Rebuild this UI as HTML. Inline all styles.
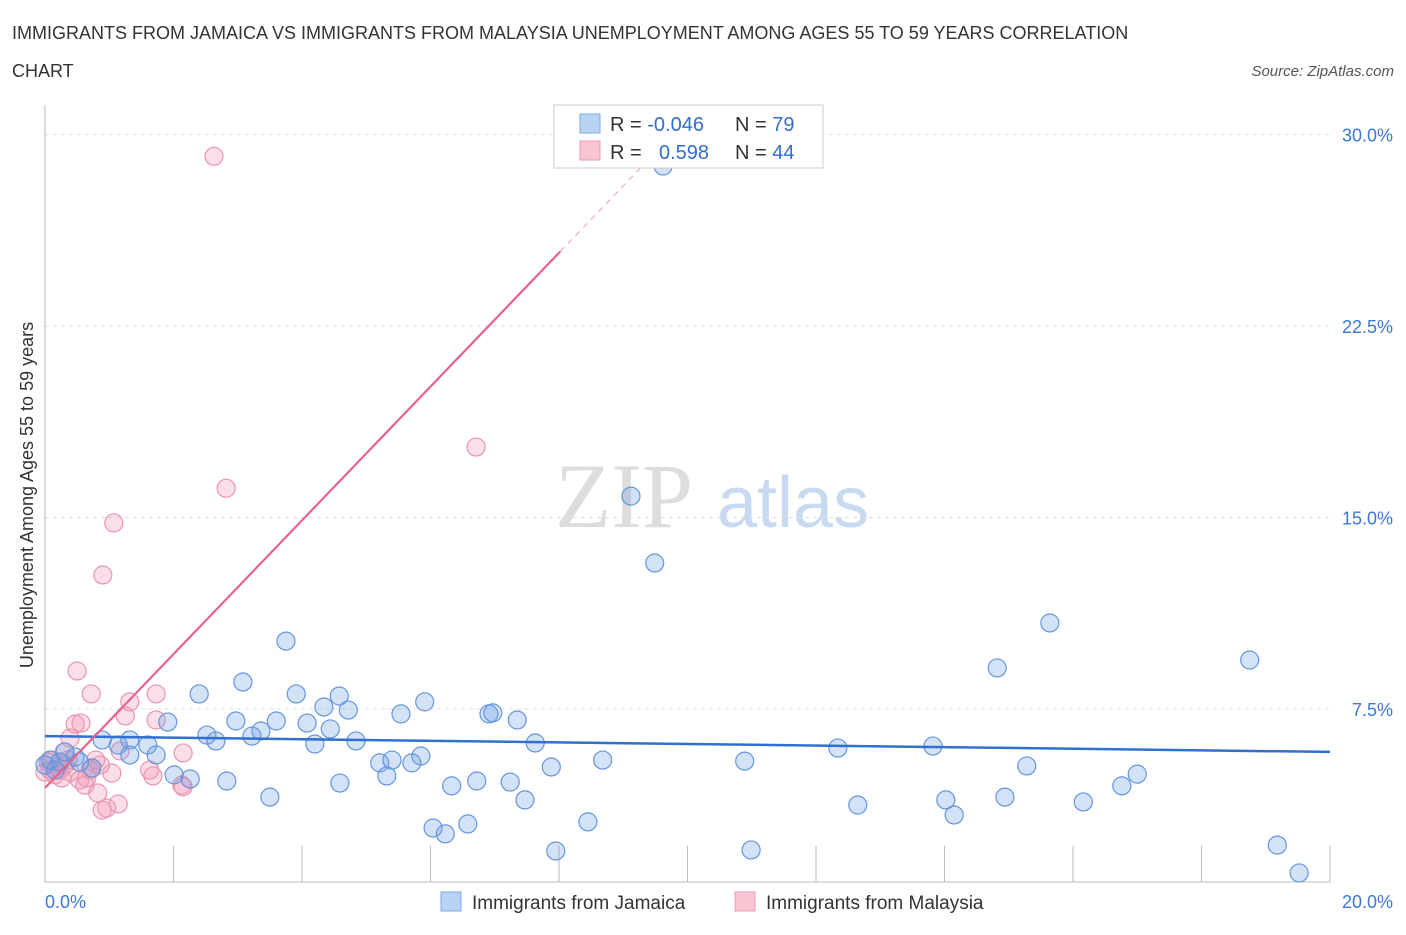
<!DOCTYPE html>
<html><head><meta charset="utf-8"><style>
body{margin:0;background:#fff;width:1406px;height:930px;overflow:hidden;font-family:"Liberation Sans",sans-serif}
</style></head><body>
<svg id="c" width="1406" height="930" xmlns="http://www.w3.org/2000/svg">
<text x="12" y="39" font-size="18" fill="#333">IMMIGRANTS FROM JAMAICA VS IMMIGRANTS FROM MALAYSIA UNEMPLOYMENT AMONG AGES 55 TO 59 YEARS CORRELATION</text>
<text x="12" y="77" font-size="18" fill="#333">CHART</text>
<text x="1394" y="76" font-size="15" fill="#555" font-style="italic" text-anchor="end">Source: ZipAtlas.com</text>
<text x="33" y="495" font-size="18" fill="#333" text-anchor="middle" transform="rotate(-90 33 495)">Unemployment Among Ages 55 to 59 years</text>
<g><text x="555" y="527" font-size="92" fill="#ddd" font-family="Liberation Serif,serif">ZIP</text><text x="717" y="527" font-size="72" fill="#c8daf2">atlas</text></g>
<g id="grid"></g><g id="marks"></g>
<g>
<rect x="554" y="105" width="269" height="63" fill="#fff" stroke="#ccc"/>
<rect x="580" y="114" width="20" height="19" fill="#b9d3f5" stroke="#7fa8e6"/>
<rect x="580" y="141" width="20" height="19" fill="#f9c5d3" stroke="#eb9ab2"/>
<text x="610" y="131" font-size="20" fill="#333">R = <tspan fill="#2f6fd0">-0.046</tspan></text>
<text x="735" y="131" font-size="20" fill="#333">N = <tspan fill="#2f6fd0">79</tspan></text>
<text x="610" y="159" font-size="20" fill="#333">R = <tspan fill="#2f6fd0" x="659">0.598</tspan></text>
<text x="735" y="159" font-size="20" fill="#333">N = <tspan fill="#2f6fd0">44</tspan></text>
</g>
<g>
<rect x="441" y="892" width="20" height="19" fill="#b9d3f5" stroke="#7fa8e6"/>
<text x="472" y="909" font-size="19" fill="#333">Immigrants from Jamaica</text>
<rect x="735" y="892" width="20" height="19" fill="#f9c5d3" stroke="#eb9ab2"/>
<text x="766" y="909" font-size="19" fill="#333">Immigrants from Malaysia</text>
</g>
</svg>
<script>
const yTicks=[7.5,15,22.5,30];
const yTickLabels=["7.5%","15.0%","22.5%","30.0%"];
const blueX=[9.62,9.12,9.49,3.75,15.64,14.82,18.75,3.08,2.40,3.91,4.58,4.34,4.72,5.91,5.54,6.91,6.97,7.35,1.91,2.97,3.60,4.08,4.44,3.36,2.52,3.22,2.66,4.20,4.84,7.63,12.34,13.82,0.89,1.32,1.60,1.14,1.73,1.32,0.47,0.08,0.23,5.21,5.40,5.85,5.71,7.88,8.68,10.89,15.28,17.00,2.01,2.26,2.83,5.32,4.59,6.33,6.72,7.24,16.76,3.50,7.47,14.02,14.94,16.16,12.65,14.15,6.58,6.04,6.23,8.45,7.95,10.99,19.18,19.52,0.16,0.31,0.73,0.00,0.54];
const blueY=[28.77,15.84,13.22,10.16,10.87,9.11,9.42,8.56,8.09,8.09,8.01,7.58,7.46,7.78,7.31,7.31,7.35,7.07,6.99,7.03,7.03,6.95,6.72,6.64,6.48,6.44,6.25,6.13,6.25,6.17,5.97,6.05,6.29,6.29,6.09,6.09,5.70,5.70,5.62,5.50,5.42,5.39,5.50,5.66,5.39,5.23,5.50,5.46,5.27,4.95,4.92,4.76,4.68,4.88,4.60,4.49,4.68,4.64,4.49,4.05,3.94,3.94,4.05,3.86,3.74,3.35,3.00,2.84,2.61,3.08,1.94,1.98,2.17,1.08,5.11,5.82,5.19,5.31,5.42];
const pinkX=[2.63,6.71,2.82,1.07,0.90,0.50,0.72,1.73,1.32,1.25,1.73,0.47,0.56,0.39,0.30,1.17,0.79,0.73,1.04,1.63,1.68,2.13,2.15,0.62,0.65,0.82,0.89,0.96,1.14,0.08,0.16,0.23,0.00,0.31,0.11,0.20,0.39,0.26,0.05,0.36,0.70,2.15,0.54,0.86];
const pinkY=[29.15,17.76,16.15,14.79,12.75,8.99,8.09,8.09,7.78,7.23,7.07,6.91,6.95,6.36,5.82,5.86,5.50,5.19,4.99,5.11,4.88,4.52,5.78,4.52,4.80,4.21,3.54,3.62,3.78,5.11,4.92,5.11,5.03,5.31,5.50,5.23,5.03,4.80,5.42,5.50,5.11,4.45,4.72,5.31];
const blueTrend=[6.44,5.82];
const pinkTrend=[4.41,2.62];
const NS="http://www.w3.org/2000/svg";
const X=v=>45+v*64.25, Y=v=>900.5-v*25.53;
const grid=document.getElementById('grid'), marks=document.getElementById('marks');
function mk(p,tag,a){const e=document.createElementNS(NS,tag);for(const k in a)e.setAttribute(k,a[k]);p.appendChild(e);return e;}
yTicks.forEach((t,i)=>{
 const l=mk(grid,'line',{x1:45,x2:1330,y1:Y(t),y2:Y(t),stroke:'#ddd','stroke-dasharray':'4,4'});
 
 
 const tx=mk(grid,'text',{x:1393,y:Y(t)+7,'font-size':18,fill:'#3a78d8','text-anchor':'end'});
 tx.textContent=yTickLabels[i];
 
 
});
const ax=mk(grid,'path',{d:'M45,105 V882 H1330',stroke:'#bbb',fill:'none'});


for(let i=1;i<=10;i++){const t=mk(grid,'line',{x1:X(i*2),x2:X(i*2),y1:846,y2:882,stroke:'#bbb'});
 
 }
const x0=mk(grid,'text',{x:45,y:908,'font-size':18,fill:'#3a78d8'});x0.textContent='0.0%';


const x1=mk(grid,'text',{x:1393,y:908,'font-size':18,fill:'#3a78d8','text-anchor':'end'});x1.textContent='20.0%';


pinkX.forEach((v,i)=>{const c=mk(marks,'circle',{cx:X(v),cy:Y(pinkY[i]),r:9,fill:'rgba(242,150,178,0.3)',stroke:'#eb94ae','stroke-width':1.2});
 
 });
blueX.forEach((v,i)=>{const c=mk(marks,'circle',{cx:X(v),cy:Y(blueY[i]),r:9,fill:'rgba(110,160,230,0.3)',stroke:'#6396de','stroke-width':1.2});
 
 });
const bt=mk(marks,'line',{x1:X(0),y1:Y(blueTrend[0]),x2:X(20),y2:Y(blueTrend[1]),stroke:'#2f6fd0','stroke-width':2.5});


const pe=8.02, pd=9.57;
const pt=mk(marks,'line',{x1:X(0),y1:Y(pinkTrend[0]),x2:X(pe),y2:Y(pinkTrend[0]+pinkTrend[1]*pe),stroke:'#e8628c','stroke-width':2.2});


const pdl=mk(marks,'line',{x1:X(pe),y1:Y(pinkTrend[0]+pinkTrend[1]*pe),x2:X(pd),y2:Y(pinkTrend[0]+pinkTrend[1]*pd),stroke:'#e8a0b5','stroke-width':1,'stroke-dasharray':'6,5'});


</script>
</body></html>
